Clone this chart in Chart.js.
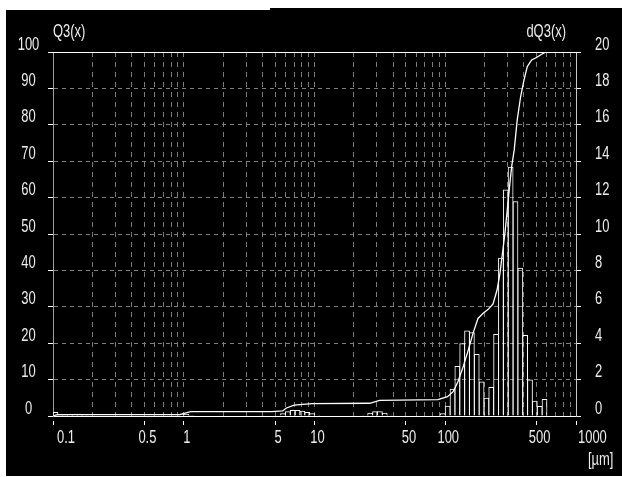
<!DOCTYPE html>
<html lang="en">
<head>
  <meta charset="UTF-8">
  <title>Q3 / dQ3 size distribution</title>
  <script src="https://cdn.jsdelivr.net/npm/chart.js"></script>
  <style>
    body {
      margin: 0;
      background: #fff;
      width: 622px;
      height: 477px;
      overflow: hidden;
      position: relative;
    }
    #plotBox {
      position: absolute;
      left: 6px;
      top: 8px;
      width: 616px;
      height: 468px;
      background: #000;
    }
    #plotBox canvas {
      display: block;
    }
    #topNotch {
      position: absolute;
      left: 0;
      top: 8px;
      width: 270px;
      height: 2px;
      background: #fff;
    }
  </style>
</head>
<body>
  <div id="plotBox"><canvas id="psdChart" width="616" height="468"></canvas></div>
  <div id="topNotch"></div>

  <script>
    // size classes (class centre in µm) and the dQ3 bar height of each class
    const classSizes = [
      0.1044, 0.1136, 0.1238, 0.1348, 0.1468, 0.1598, 0.1741,
      0.9583, 1.0436, 1.1365,
      5.7446, 6.2560, 6.8129, 7.4194, 8.0799, 8.7992, 9.5826, 10.436,
      24.484, 26.664, 29.038, 31.623, 34.438, 37.504,
      95.826, 104.36, 113.65, 123.76, 134.78, 146.78, 159.85, 174.08, 189.57, 206.45, 224.83,
      244.85, 266.64, 290.38, 316.23, 344.38, 375.04, 408.43, 444.79, 484.38, 527.51, 574.47
    ];
    const dQ3 = [
      0.22, 0.05, 0.06, 0.10, 0.12, 0.12, 0.08,
      0.10, 0.12, 0.06,
      0.15, 0.26, 0.33, 0.33, 0.29, 0.22, 0.15, 0.07,
      0.07, 0.18, 0.26, 0.26, 0.18, 0.07,
      0.15, 0.57, 1.5, 2.75, 4.0, 4.7, 4.6, 3.4, 1.9, 1.0, 1.6,
      4.5, 8.7, 12.45, 13.7, 11.8, 8.15, 4.45, 2.0, 0.84, 0.55, 0.93
    ];

    // cumulative curve Q3(x) in %
    const q3Sizes = [
      0.1, 0.108, 0.93, 1.13, 4.7, 5.7, 6.1, 7.0, 8.1, 9.7,
      26.4, 31.5, 88, 104, 115, 125, 137, 150, 163, 178,
      195, 213, 232, 249, 262, 274, 286, 298, 312, 322,
      337, 355, 377, 400, 424, 458, 500, 546, 578, 600, 1000
    ];
    const q3 = [
      0, 0.4, 0.4, 1.2, 1.2, 1.4, 2.2, 3.0, 3.2, 3.4,
      3.5, 4.3, 4.5, 5.3, 6.7, 9.4, 13.5, 18.1, 22.7, 26.8,
      28.2, 29.3, 30.8, 34.6, 39.2, 44.7, 50.2, 56.6, 63.9, 68.5,
      73.1, 81.3, 87.7, 92.3, 96.0, 97.8, 98.5, 99.4, 99.9, 100, 100
    ];

    // x axis: labelled ticks and the log grid (1..9 per decade)
    const xLabels = [0.1, 0.5, 1, 5, 10, 50, 100, 500, 1000];
    const decades = [0.1, 1, 10, 100];
    const mantissas = [1, 2, 3, 4, 5, 6, 7, 8, 9];
    const xGrid = decades.flatMap(d => mantissas.map(m => +(d * m).toPrecision(3))).concat([1000]);

    const FONT = '"Liberation Sans", Arial, sans-serif';
    const TEXT_COLOR = '#ececec';
    const SQUEEZE = 0.72; // the instrument font is a narrow one

    // white top frame line
    const framePlugin = {
      id: 'framePlugin',
      afterDraw: (chart) => {
        const ctx = chart.ctx;
        const a = chart.chartArea;
        ctx.save();
        ctx.strokeStyle = '#fff';
        ctx.lineWidth = 1;
        ctx.beginPath();
        ctx.moveTo(a.left - 5, Math.round(a.top) + 0.5);
        ctx.lineTo(a.right + 5, Math.round(a.top) + 0.5);
        ctx.stroke();
        ctx.restore();
      }
    };

    // tick labels and captions, drawn narrow from the chart's own scales
    const labelPlugin = {
      id: 'labelPlugin',
      afterDraw: (chart) => {
        const ctx = chart.ctx;
        const a = chart.chartArea;
        const sx = chart.scales.x;
        const yl = chart.scales.yL;
        const yr = chart.scales.yR;

        const put = (text, x, y, align) => {
          ctx.save();
          ctx.translate(x, y);
          ctx.scale(SQUEEZE, 1);
          ctx.textAlign = align;
          ctx.fillText(text, 0, 0);
          ctx.restore();
        };

        ctx.save();
        ctx.fillStyle = TEXT_COLOR;
        ctx.font = '18px ' + FONT;
        ctx.textBaseline = 'alphabetic';

        yl.ticks.forEach(t => put(String(t.value), a.left - 24.5, yl.getPixelForValue(t.value) - 2.5, 'center'));
        yr.ticks.forEach(t => put(String(t.value), a.right + 19, yr.getPixelForValue(t.value) - 2.5, 'left'));

        const baseY = a.bottom + 27;
        xLabels.forEach((v, i) => {
          const px = sx.getPixelForValue(v);
          if (i === 0) {
            put(String(v), px + 4, baseY, 'left');
          } else if (i === xLabels.length - 1) {
            put(String(v), px + 2, baseY, 'left');
          } else {
            put(String(v), px + 3, baseY, 'center');
          }
        });

        put('Q3(x)', a.left, a.top - 15.5, 'left');
        put('dQ3(x)', a.right - 10, a.top - 15.5, 'right');
        put('[µm]', a.right + 12, a.bottom + 48.5, 'left');
        ctx.restore();
      }
    };

    const ctx = document.getElementById('psdChart').getContext('2d');

    const psdChart = new Chart(ctx, {
      type: 'bar',
      data: {
        datasets: [
          {
            type: 'line',
            label: 'Q3(x)',
            data: q3Sizes.map((s, i) => ({ x: s, y: q3[i] })),
            xAxisID: 'x',
            yAxisID: 'yL',
            borderColor: '#fff',
            borderWidth: 1.3,
            pointRadius: 0,
            tension: 0,
            fill: false,
            order: 0
          },
          {
            type: 'bar',
            label: 'dQ3(x)',
            data: classSizes.map((s, i) => ({ x: s, y: dQ3[i] })),
            xAxisID: 'x',
            yAxisID: 'yR',
            backgroundColor: 'rgba(0,0,0,0)',
            borderColor: '#fff',
            borderWidth: 1,
            borderSkipped: 'start',
            categoryPercentage: 1,
            barPercentage: 1.2,
            order: 1
          }
        ]
      },
      options: {
        responsive: false,
        animation: false,
        events: [],
        layout: { padding: { top: 44, left: 0, right: 0, bottom: 0 } },
        plugins: {
          legend: { display: false },
          tooltip: { enabled: false }
        },
        scales: {
          x: {
            type: 'logarithmic',
            position: 'bottom',
            min: 0.1,
            max: 1000,
            offset: false,
            afterBuildTicks: (scale) => {
              scale.ticks = xGrid.map(v => ({ value: v }));
            },
            afterFit: (scale) => { scale.height = 60; },
            grid: {
              offset: false,
              color: '#7c7c7c',
              lineWidth: 1,
              tickLength: 9,
              tickColor: (c) => xLabels.includes(c.tick && c.tick.value) ? '#fff' : 'rgba(0,0,0,0)',
              tickBorderDash: [0, 4, 5, 50]
            },
            border: { color: '#fff', width: 1, dash: [5, 5] },
            ticks: { display: false, autoSkip: false }
          },
          yL: {
            type: 'linear',
            position: 'left',
            min: 0,
            max: 100,
            afterFit: (scale) => { scale.width = 47; },
            grid: {
              color: '#808080',
              tickLength: 5,
              tickColor: '#fff'
            },
            border: { color: '#a0a0a0', width: 1, dash: [4, 4] },
            ticks: { display: false, stepSize: 10 }
          },
          yR: {
            type: 'linear',
            position: 'right',
            min: 0,
            max: 20,
            afterFit: (scale) => { scale.width = 46; },
            grid: {
              drawOnChartArea: false,
              tickLength: 5,
              tickColor: '#fff'
            },
            border: { color: '#c8c8c8', width: 1 },
            ticks: { display: false, stepSize: 2 }
          }
        }
      },
      plugins: [framePlugin, labelPlugin]
    });
  </script>
</body>
</html>
